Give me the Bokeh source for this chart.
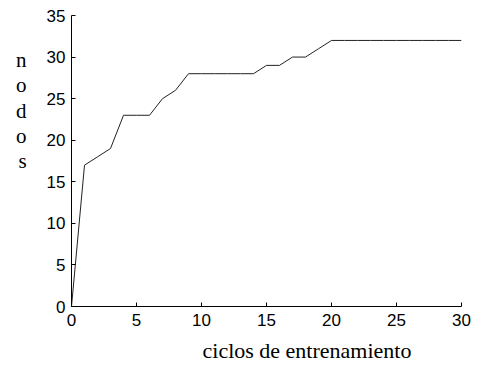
from bokeh.plotting import figure
from bokeh.models import Range1d, Title, FixedTicker
from bokeh.embed import file_html
from bokeh.resources import INLINE

# training cycles and number of nodes after each cycle
ciclos = list(range(0, 31))
nodos = [0, 17, 18, 19, 23, 23, 23, 25, 26, 28,
         28, 28, 28, 28, 28, 29, 29, 30, 30, 31,
         32, 32, 32, 32, 32, 32, 32, 32, 32, 32, 32]

x_ticks = [0, 5, 10, 15, 20, 25, 30]
y_ticks = [0, 5, 10, 15, 20, 25, 30, 35]

x_title = "ciclos de entrenamiento"
y_title = "nodos"

p = figure(width=477, height=369, output_backend="svg", toolbar_location=None,
           x_range=Range1d(0, 30), y_range=Range1d(0, 35),
           min_border_left=71, min_border_right=16,
           min_border_top=15, min_border_bottom=62)

p.line(ciclos, nodos, line_color="#222222", line_width=1)

p.grid.visible = False
p.outline_line_color = None
p.background_fill_color = "white"
p.border_fill_color = "white"

p.xaxis.ticker = FixedTicker(ticks=x_ticks)
p.yaxis.ticker = FixedTicker(ticks=y_ticks)

for ax in (p.xaxis[0], p.yaxis[0]):
    ax.axis_line_color = "black"
    ax.axis_line_width = 1
    ax.major_tick_line_color = "black"
    ax.major_tick_in = 4
    ax.major_tick_out = 0
    ax.minor_tick_line_color = None
    ax.major_label_text_font = "Liberation Sans"
    ax.major_label_text_font_size = "17px"
    ax.major_label_text_color = "black"

p.xaxis.major_label_standoff = 7
p.yaxis.major_label_standoff = 6

# y title: letters stacked in a column, kept towards the top of the axis
stacked = "\n".join(y_title) + "\n\u00a0" * 4
p.yaxis.axis_label = stacked
p.yaxis.axis_label_orientation = "horizontal"
p.yaxis.axis_label_text_font = "Liberation Serif"
p.yaxis.axis_label_text_font_style = "normal"
p.yaxis.axis_label_text_font_size = "21px"
p.yaxis.axis_label_text_line_height = 1.05
p.yaxis.axis_label_text_color = "black"
p.yaxis.axis_label_standoff = 17

# x title, set to the right of the frame centre
p.add_layout(Title(text=x_title, align="left", offset=131,
                   text_font="Liberation Serif", text_font_style="normal",
                   text_font_size="22px", text_color="black", standoff=14),
             "below")

open("out.html", "w").write(file_html(p, INLINE))
